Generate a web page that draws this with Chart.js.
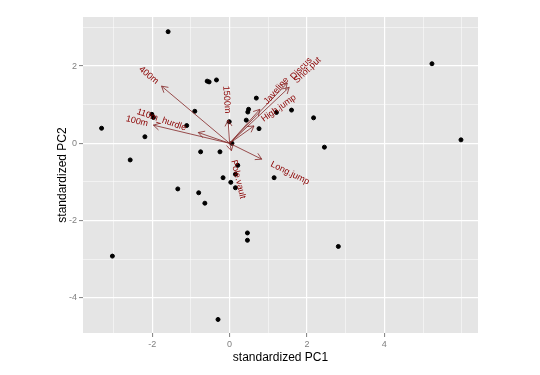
<!DOCTYPE html>
<html>
<head>
<meta charset="utf-8">
<script src="https://cdn.jsdelivr.net/npm/chart.js@4"></script>
<style>
  html, body { margin: 0; padding: 0; background: #fff; }
  #wrap { width: 540px; height: 375px; }
</style>
</head>
<body>
<div id="wrap"><canvas id="chart" width="540" height="375"></canvas></div>
<script>
// athletes, standardized scores
const pc1 = [-1.59, 5.23, 5.98, 2.17, 2.45, 2.81, -3.31, -2.57, -2.19, -2.01, -1.97, -1.11, -1.34, -0.90,
  -0.58, -0.53, -0.34, -0.01, 0.69, 0.49, 0.47, 0.43, 0.76, 1.21, 1.60, -0.75, -0.25, 0.21, -0.17, 0.03,
  0.15, 0.15, 1.15, -0.80, -0.64, 0.46, 0.46, -0.30, -3.03, 0.06];
const pc2 = [2.89, 2.06, 0.09, 0.66, -0.10, -2.67, 0.39, -0.43, 0.17, 0.75, 0.67, 0.46, -1.18, 0.83,
  1.61, 1.59, 1.64, 0.56, 1.17, 0.88, 0.81, 0.60, 0.38, 0.80, 0.86, -0.22, -0.22, -0.57, -0.89, -1.01,
  -0.80, -1.15, -0.89, -1.28, -1.55, -2.32, -2.51, -4.56, -2.92, 0.00];

// variable loadings (arrows)
const varNames = ['100m', 'Long.jump', 'Shot.put', 'High.jump', '400m', '110m_hurdle', 'Discus', 'Pole.vault', 'Javeline', '1500m'];
const varPC1 = [-1.97, 0.83, 1.54, 0.63, -1.76, -0.81, 1.49, 0.045, 0.78, -0.04];
const varPC2 = [0.47, -0.41, 1.45, 0.45, 1.48, 0.28, 1.56, -0.19, 0.88, 0.60];

const xTicks = [-2, 0, 2, 4];
const yTicks = [-4, -2, 0, 2];

const panelBg = {
  id: 'panelBg',
  beforeDraw(chart) {
    const { ctx, chartArea: a } = chart;
    ctx.save();
    ctx.fillStyle = '#E5E5E5';
    ctx.fillRect(a.left, a.top, a.right - a.left, a.bottom - a.top);
    ctx.restore();
  }
};

const arrows = {
  id: 'arrows',
  afterDatasetsDraw(chart) {
    const { ctx, scales: { x, y } } = chart;
    const x0 = x.getPixelForValue(0), y0 = y.getPixelForValue(0);
    ctx.save();
    ctx.strokeStyle = '#832424';
    ctx.lineWidth = 0.8;
    varNames.forEach((name, i) => {
      const x1 = x.getPixelForValue(varPC1[i]), y1 = y.getPixelForValue(varPC2[i]);
      const a = Math.atan2(y1 - y0, x1 - x0);
      ctx.beginPath();
      ctx.moveTo(x0, y0);
      ctx.lineTo(x1, y1);
      ctx.moveTo(x1 - 7 * Math.cos(a - Math.PI / 6), y1 - 7 * Math.sin(a - Math.PI / 6));
      ctx.lineTo(x1, y1);
      ctx.lineTo(x1 - 7 * Math.cos(a + Math.PI / 6), y1 - 7 * Math.sin(a + Math.PI / 6));
      ctx.stroke();
    });
    ctx.font = '9px "Liberation Sans", Arial, sans-serif';
    ctx.fillStyle = '#8B0000';
    ctx.textBaseline = 'middle';
    ctx.textAlign = 'left';
    varNames.forEach((name, i) => {
      const x1 = x.getPixelForValue(varPC1[i]), y1 = y.getPixelForValue(varPC2[i]);
      const ang = Math.atan((y1 - y0) / (x1 - x0));
      const w = ctx.measureText(name).width;
      ctx.save();
      ctx.translate(x1, y1);
      ctx.rotate(ang);
      ctx.fillText(name, varPC1[i] > 0 ? 0.25 * w : -1.25 * w, 0);
      ctx.restore();
    });
    ctx.restore();
  }
};

function axisOpts(major, min, max, titleText, isY) {
  return {
    type: 'linear',
    min: min,
    max: max,
    afterBuildTicks: (scale) => {
      const t = [];
      for (let v = Math.ceil(min); v <= max; v++) t.push({ value: v });
      scale.ticks = t;
    },
    afterFit: (scale) => {
      if (isY) scale.width = 83; else scale.height = 42;
    },
    border: { display: false },
    grid: {
      color: '#FFFFFF',
      lineWidth: (c) => major.includes(c.tick.value) ? 1.2 : 0.5,
      tickColor: (c) => major.includes(c.tick.value) ? '#7F7F7F' : 'rgba(0,0,0,0)',
      tickLength: 4,
      tickWidth: 1
    },
    ticks: {
      autoSkip: false,
      maxRotation: 0,
      color: '#7F7F7F',
      font: { size: 9, family: '"Liberation Sans", Arial, sans-serif' },
      padding: 2,
      callback: (v) => major.includes(v) ? String(v) : ''
    },
    title: {
      display: true,
      text: titleText,
      color: '#000',
      font: { size: 12, family: '"Liberation Sans", Arial, sans-serif' },
      padding: isY ? { top: 55, bottom: 0 } : { top: 0, bottom: 10 }
    }
  };
}

new Chart(document.getElementById('chart'), {
  type: 'scatter',
  data: {
    datasets: [{
      data: pc1.map((v, i) => ({ x: v, y: pc2[i] })),
      backgroundColor: '#000',
      borderColor: '#000',
      pointRadius: 2,
      pointHoverRadius: 2
    }]
  },
  options: {
    responsive: false,
    animation: false,
    layout: { padding: { top: 17, right: 62, left: 0, bottom: 0 } },
    plugins: { legend: { display: false }, tooltip: { enabled: false } },
    scales: {
      x: axisOpts(xTicks, -3.79, 6.42, 'standardized PC1', false),
      y: axisOpts(yTicks, -4.91, 3.27, 'standardized PC2', true)
    }
  },
  plugins: [panelBg, arrows]
});
</script>
</body>
</html>
